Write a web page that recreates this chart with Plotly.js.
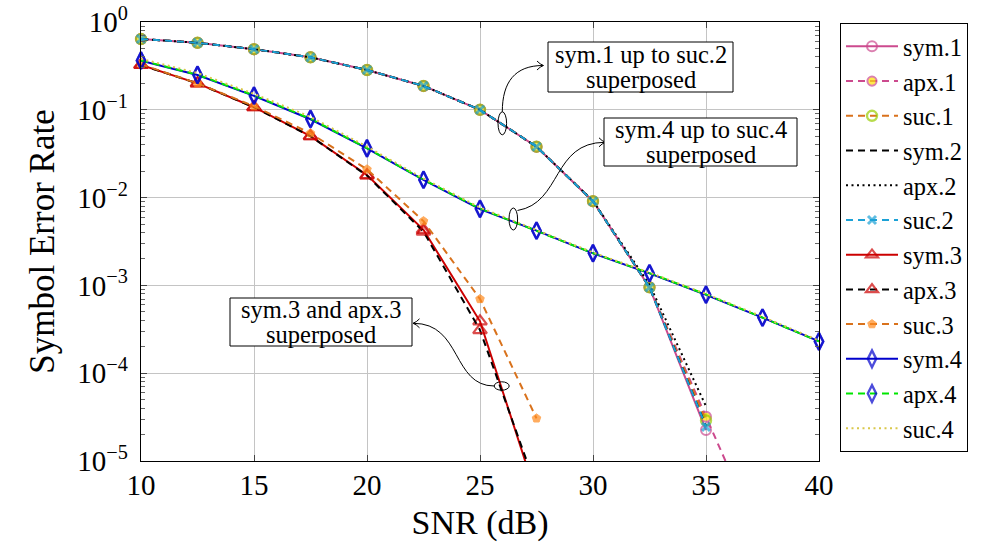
<!DOCTYPE html>
<html><head><meta charset="utf-8">
<script src="https://cdn.plot.ly/plotly-3.0.1.min.js"></script>
<style>html,body{margin:0;padding:0;background:#fff}</style>
</head><body>
<div id="chart" style="width:986px;height:550px"></div>
<script>
// ---- data ----
const snr   = [10,12.5,15,17.5,20,22.5,25,27.5,30,32.5,35];
const snrA1 = [10,12.5,15,17.5,20,22.5,25,27.5,30,32.5,35,37.5];
const snr3  = [10,12.5,15,17.5,20,22.5,25,27.5];
const snr4  = [10,12.5,15,17.5,20,22.5,25,27.5,30,32.5,35,37.5,40];

const sym1 = [0.64,0.58,0.49,0.396,0.284,0.187,0.1,0.038,0.0091,0.00095,2.25e-5];
const apx1 = [0.64,0.58,0.49,0.396,0.284,0.187,0.1,0.038,0.0091,0.00095,3.2e-5,1.1e-6];
const suc1 = [0.64,0.58,0.49,0.396,0.284,0.187,0.1,0.038,0.0091,0.00095,2.9e-5];
const sym2 = [0.64,0.58,0.49,0.396,0.284,0.187,0.1,0.038,0.0091,0.00095,2.5e-5];
const apx2 = [0.64,0.58,0.49,0.396,0.284,0.187,0.1,0.038,0.0092,0.00102,4.2e-5];
const suc2 = [0.64,0.58,0.49,0.396,0.284,0.187,0.1,0.038,0.0091,0.00095,2.45e-5];

const sym3 = [0.324,0.2,0.107,0.050,0.0181,0.0043,3.9e-4,4.0e-6];
const apx3 = [0.324,0.2,0.107,0.050,0.0178,0.0041,3.1e-4,4.9e-6];
const suc3 = [0.33,0.2,0.11,0.054,0.021,0.0054,7.0e-4,3.06e-5];

const sym4 = [0.363,0.249,0.144,0.078,0.0363,0.0159,0.0074,0.0042,0.00232,0.00137,0.00078,0.00043,0.00023];
const apx4 = [0.365,0.251,0.146,0.079,0.0366,0.016,0.0075,0.0042,0.00233,0.00138,0.00079,0.00043,0.00023];
const suc4 = [0.38,0.262,0.152,0.083,0.038,0.0165,0.0077,0.0043,0.00237,0.0014,0.0008,0.00044,0.000235];

const seriesNames = ['sym.1','apx.1','suc.1','sym.2','apx.2','suc.2','sym.3','apx.3','suc.3','sym.4','apx.4','suc.4'];
const xTickVals = [10,15,20,25,30,35,40];
const yTickVals = [1,0.1,0.01,0.001,0.0001,0.00001];
const yTickText = ['10<sup>0</sup>','10<sup>\u22121</sup>','10<sup>\u22122</sup>','10<sup>\u22123</sup>','10<sup>\u22124</sup>','10<sup>\u22125</sup>'];
const yMin = 1e-5;

// ---- styling ----
const FONT = "'Liberation Serif'";
const C = {
  pink:'#cc4a8e', yellow:'#ffe100', orange:'#d9721c', ygreen:'#99cc00', cyan:'#1ba1d6',
  red:'#cc0000', orangeM:'#ff8a1c', blue:'#0000cc', green:'#00e600', yel:'#d9c84a', black:'#000000'
};
const DASH = '7px,5px', DOT = '2px,3.5px';
function sizes(arr, s){ return arr.map(v => v >= yMin ? s : 0); }

const traces = [
  {x:snr, y:sym1, name:seriesNames[0], mode:'lines+markers', line:{color:C.pink,width:2},
   marker:{symbol:'circle-open', size:sizes(sym1,10), color:C.pink, line:{width:2,color:C.pink}}},
  {x:snrA1, y:apx1, name:seriesNames[1], mode:'lines+markers', line:{color:C.pink,width:2,dash:DASH},
   marker:{symbol:'circle', size:sizes(apx1,10), color:C.yellow, line:{width:2,color:C.pink}}},
  {x:snr, y:suc1, name:seriesNames[2], mode:'lines+markers', line:{color:C.orange,width:2,dash:DASH},
   marker:{symbol:'circle-open', size:sizes(suc1,10), color:C.ygreen, line:{width:2.4,color:C.ygreen}}},
  {x:snr, y:sym2, name:seriesNames[3], mode:'lines', line:{color:C.black,width:2,dash:DASH}},
  {x:snr, y:apx2, name:seriesNames[4], mode:'lines', line:{color:C.black,width:2,dash:DOT}},
  {x:snr, y:suc2, name:seriesNames[5], mode:'lines+markers', line:{color:C.cyan,width:2,dash:DASH},
   marker:{symbol:'x-thin-open', size:sizes(suc2,8), color:C.cyan, line:{width:3,color:C.cyan}}},
  {x:snr3, y:sym3, name:seriesNames[6], mode:'lines+markers', line:{color:C.red,width:2},
   marker:{symbol:'triangle-up-open', size:sizes(sym3,12), color:C.red, line:{width:2.2,color:C.red}}},
  {x:snr3, y:apx3, name:seriesNames[7], mode:'lines+markers', line:{color:C.black,width:2,dash:DASH},
   marker:{symbol:'triangle-up-open', size:sizes(apx3,12), color:C.red, line:{width:2.2,color:C.red}}},
  {x:snr3, y:suc3, name:seriesNames[8], mode:'lines+markers', line:{color:C.orange,width:2,dash:DASH},
   marker:{symbol:'pentagon', size:sizes(suc3,9), color:C.orangeM, line:{width:1,color:C.orangeM}}},
  {x:snr4, y:sym4, name:seriesNames[9], mode:'lines+markers', line:{color:C.blue,width:2},
   marker:{symbol:'diamond-tall-open', size:sizes(sym4,12), color:C.blue, line:{width:2.4,color:C.blue}}},
  {x:snr4, y:apx4, name:seriesNames[10], mode:'lines+markers', line:{color:C.green,width:2,dash:DASH},
   marker:{symbol:'diamond-tall-open', size:sizes(apx4,12), color:C.blue, line:{width:2.4,color:C.blue}}},
  {x:snr4, y:suc4, name:seriesNames[11], mode:'lines', line:{color:C.yel,width:2,dash:DOT}}
];
traces.forEach(t => { t.type = 'scatter'; t.cliponaxis = false; });

// ---- plot geometry (pixels) ----
const L = 141, T = 22, W = 678, H = 439;
function PX(p){ return (p - L) / W; }
function PY(p){ return (T + H - p) / H; }

const minorVals = [];
for (let e = -5; e < 0; e++) for (let m = 2; m <= 9; m++) minorVals.push(m * Math.pow(10, e));

const boxes = [
  {x0:548, x1:733, y0:42, y1:92, lines:['sym.1 up to suc.2','superposed'], ly:[54.5,79.5]},
  {x0:604, x1:797, y0:118, y1:166, lines:['sym.4 up to suc.4','superposed'], ly:[129.5,154.5]},
  {x0:230, x1:412, y0:298, y1:346, lines:['sym.3 and apx.3','superposed'], ly:[309.5,334.5]}
];
const ellipses = [
  {cx:502.3, cy:123.3, rx:4.3, ry:11.5},
  {cx:513.3, cy:219, rx:4.3, ry:11},
  {cx:501.7, cy:386, rx:7.5, ry:4.2}
];
function pathP(cmds){
  return cmds.map(c => c[0] + ' ' + c.slice(1).map((v,i) => i%2===0 ? PX(v).toFixed(5) : PY(v).toFixed(5)).join(',')).join(' ');
}
const curves = [
  [['M',502.3,111.8],['C',502.3,82,515,65.5,543,65.5]],
  [['M',517.5,210.5],['C',562,203,552,142.3,605,142.3]],
  [['M',494.2,386],['C',452,386,462,323.3,413.5,323.3]]
];
const heads = [
  [['M',537,61],['Q',540,64.3,543.5,65.5],['Q',540,66.7,537,70]],
  [['M',599,137.8],['Q',602,141.1,605.5,142.3],['Q',602,143.5,599,146.8]],
  [['M',419.5,318.8],['Q',416.5,322.1,413,323.3],['Q',416.5,324.5,419.5,327.8]]
];

const shapes = [];
const annotations = [];
ellipses.forEach(e => shapes.push({type:'circle', xref:'paper', yref:'paper',
  x0:PX(e.cx-e.rx), x1:PX(e.cx+e.rx), y0:PY(e.cy+e.ry), y1:PY(e.cy-e.ry),
  line:{color:'#000', width:1}, fillcolor:'rgba(0,0,0,0)', layer:'above'}));
curves.forEach(c => shapes.push({type:'path', xref:'paper', yref:'paper', path:pathP(c),
  line:{color:'#000', width:1}, layer:'above'}));
heads.forEach(c => shapes.push({type:'path', xref:'paper', yref:'paper', path:pathP(c),
  line:{color:'#000', width:1}, layer:'above'}));
boxes.forEach(b => {
  shapes.push({type:'rect', xref:'paper', yref:'paper', x0:PX(b.x0), x1:PX(b.x1), y0:PY(b.y1), y1:PY(b.y0),
    line:{color:'#000', width:1}, fillcolor:'#ffffff', layer:'above'});
  b.lines.forEach((s,i) => annotations.push({xref:'paper', yref:'paper', x:PX((b.x0+b.x1)/2), y:PY(b.ly[i]),
    xanchor:'center', yanchor:'middle', text:s, showarrow:false, font:{family:FONT, size:24.5, color:'#000'}}));
});

const layout = {
  width:986, height:550,
  margin:{l:L, r:986-L-W, t:T, b:550-T-H, autoexpand:false},
  paper_bgcolor:'#fff', plot_bgcolor:'#fff',
  font:{family:FONT, color:'#000'},
  showlegend:true,
  legend:{x:PX(840), y:PY(23), xanchor:'left', yanchor:'top', bgcolor:'#fff',
    bordercolor:'#000', borderwidth:1, font:{family:FONT, size:24.4, color:'#000'}, itemwidth:52, tracegroupgap:0},
  xaxis:{type:'linear', range:[10,40], tickmode:'array', tickvals:xTickVals,
    ticks:'inside', ticklen:6, tickcolor:'#444', mirror:'allticks', showline:true, linecolor:'#000', linewidth:1.3,
    showgrid:true, gridcolor:'#c4c4c4', gridwidth:1, zeroline:false,
    tickfont:{family:FONT, size:29}, ticklabelstandoff:-2,
    title:{text:'SNR (dB)', font:{family:FONT, size:34}, standoff:10}},
  yaxis:{type:'log', range:[-5,0], tickmode:'array', tickvals:yTickVals, ticktext:yTickText,
    ticks:'inside', ticklen:6, tickcolor:'#444', mirror:'allticks', showline:true, linecolor:'#000', linewidth:1.3,
    showgrid:true, gridcolor:'#c4c4c4', gridwidth:1, zeroline:false,
    tickfont:{family:FONT, size:29}, ticklabelstandoff:6,
    minor:{tickmode:'array', tickvals:minorVals, ticks:'inside', ticklen:4, tickcolor:'#666', showgrid:false},
    title:{text:'Symbol Error Rate', font:{family:FONT, size:35}, standoff:12}},
  shapes:shapes, annotations:annotations
};

Plotly.newPlot('chart', traces, layout, {staticPlot:true, displayModeBar:false});
</script>
</body></html>
